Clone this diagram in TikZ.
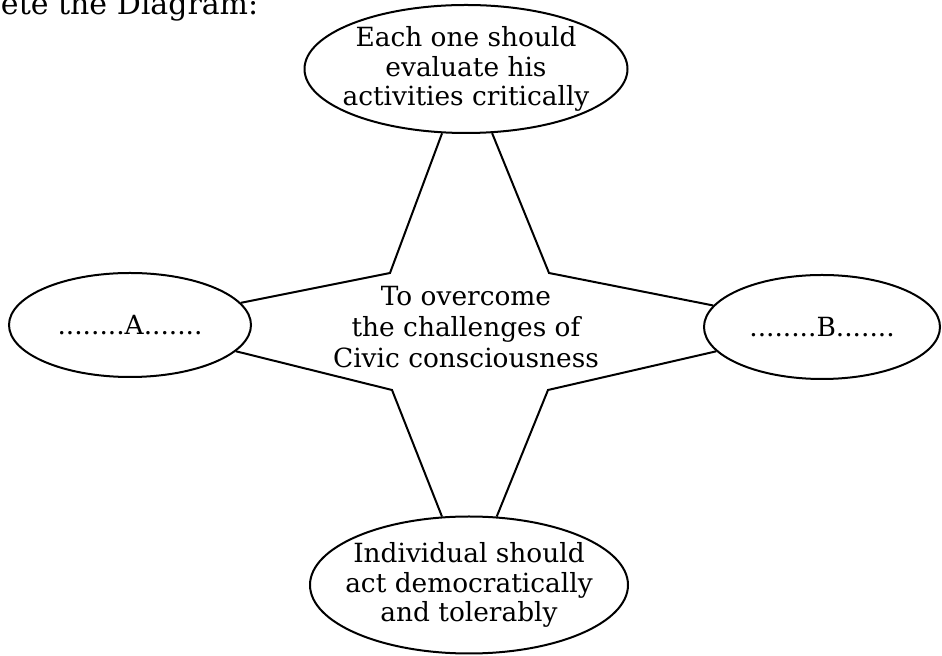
\documentclass[tikz,border=0pt]{standalone}
\usepackage{fontspec}
\setmainfont{DejaVu Serif}
\usetikzlibrary{shapes,positioning}

\tikzset{
  oval/.style={draw, ellipse, inner sep=0pt},
  txt/.style={align=center, font=\fontsize{13.2}{14.7}\selectfont}
}

\begin{document}
\begin{tikzpicture}[x=0.5pt, y=-0.5pt, line width=1pt]
\useasboundingbox (0,0) rectangle (942,656);
\node[anchor=base west, inner sep=0pt, font=\fontsize{15}{17}\selectfont] (head) at (0,15) {ete the Diagram:};
% the four ovals
\node[oval, minimum width=161.5pt, minimum height=64pt,
  label={[txt]center:Each one should\\evaluate his\\activities critically}] (top) at (466,69) {};
\node[oval, minimum width=121pt, minimum height=52pt,
  label={[txt]center:........A.......}] (left) at (130,325) {};
\node[oval, minimum width=118pt, minimum height=52pt,
  label={[txt]center:........B.......}] (right) at (822,327) {};
\node[oval, minimum width=159pt, minimum height=68.5pt,
  label={[txt]center:Individual should\\act democratically\\and tolerably}] (bot) at (469,585) {};
% centre
\node[txt, font=\fontsize{13.2}{15.7}\selectfont] (mid) at (466,327) {To overcome\\the challenges of\\Civic consciousness};
\coordinate (nw) at (390,273);
\coordinate (ne) at (549,273);
\coordinate (sw) at (392,390);
\coordinate (se) at (548,390);
\draw (top) -- (nw) -- (left);
\draw (top) -- (ne) -- (right);
\draw (left) -- (sw) -- (bot);
\draw (right) -- (se) -- (bot);
\end{tikzpicture}
\end{document}
